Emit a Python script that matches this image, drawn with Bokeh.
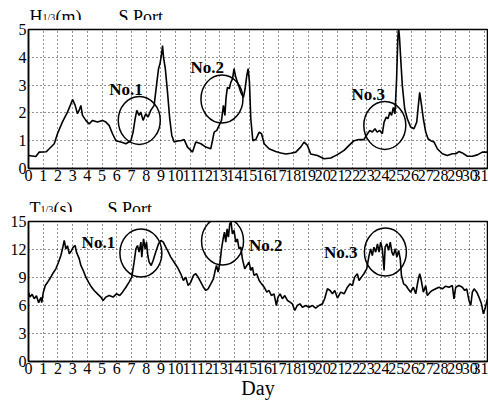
from bokeh.plotting import figure
from bokeh.layouts import column
from bokeh.models import Range1d, FixedTicker, Label
from bokeh.embed import file_html
from bokeh.resources import INLINE

# ---------------- data ----------------
days = list(range(0, 32))
h_ticks = [0, 1, 2, 3, 4, 5]
t_ticks = [0, 3, 6, 9, 12, 15]

h_day = [0.0, 0.5, 0.73, 1.2, 1.41, 1.75, 1.97, 2.3, 2.65, 2.84, 3.0, 3.17, 3.33, 3.44, 3.56, 3.67,
         3.9, 4.12, 4.35, 4.69, 5.03, 5.26, 5.48, 5.71, 5.94, 6.28, 6.62, 6.96, 7.11, 7.25, 7.36,
         7.52, 7.63, 7.79, 7.97, 8.13, 8.31, 8.54, 8.7, 8.84, 8.95, 9.06, 9.11, 9.18, 9.3, 9.45,
         9.6, 9.74, 9.9, 10.2, 10.35, 10.58, 10.81, 11.15, 11.37, 11.72, 12.05, 12.39, 12.62, 12.8,
         12.96, 13.12, 13.25, 13.35, 13.43, 13.52, 13.65, 13.75, 13.87, 13.97, 14.09, 14.25, 14.43,
         14.61, 14.72, 14.84, 14.93, 15.02, 15.11, 15.25, 15.45, 15.68, 15.84, 16.02, 16.35, 16.8,
         17.15, 17.5, 17.83, 18.17, 18.5, 18.73, 18.96, 19.18, 19.64, 20.09, 20.55, 21.0, 21.45,
         21.79, 22.13, 22.47, 22.8, 23.04, 23.2, 23.37, 23.55, 23.7, 23.88, 24.05, 24.17, 24.32,
         24.43, 24.57, 24.68, 24.8, 24.91, 25.02, 25.1, 25.15, 25.22, 25.3, 25.41, 25.57, 25.75,
         25.98, 26.2, 26.39, 26.5, 26.59, 26.7, 26.84, 27.0, 27.16, 27.34, 27.57, 27.79, 28.13,
         28.47, 28.81, 29.04, 29.26, 29.49, 29.83, 30.17, 30.51, 30.85, 31.2]
h_val = [0.47, 0.43, 0.59, 0.6, 0.71, 0.89, 1.25, 1.67, 2.03, 2.27, 2.48, 2.27, 1.97, 2.09, 2.27, 1.91,
         1.73, 1.6, 1.73, 1.67, 1.73, 1.67, 1.55, 1.25, 1.0, 0.95, 0.89, 1.0, 1.31, 1.79, 2.09,
         1.91, 2.03, 1.73, 1.97, 1.85, 2.09, 2.27, 2.99, 3.59, 3.8, 4.18, 4.42, 3.99, 3.59, 2.74,
         1.79, 1.19, 0.95, 1.0, 1.0, 1.04, 0.77, 0.59, 0.95, 0.89, 0.77, 0.71, 1.31, 1.37,
         1.55, 1.73, 2.27, 1.91, 2.56, 2.92, 2.87, 3.1, 3.22, 3.59, 3.28, 3.04, 2.74,
         2.56, 2.86, 3.35, 3.59, 3.1, 1.79, 1.0, 1.04, 1.31, 1.25, 0.89, 0.71, 0.61,
         0.56, 0.52, 0.55, 0.59, 0.77, 0.95, 0.83, 0.52, 0.47, 0.35, 0.38, 0.5, 0.65,
         0.83, 1.0, 1.04, 1.04, 1.25, 1.37, 1.31, 1.43, 1.31, 1.37, 1.25, 1.67, 1.85,
         1.79, 2.03, 1.91, 2.2, 1.97, 3.2, 4.6, 5.1, 4.7, 3.95, 2.99, 2.15, 1.79,
         1.49, 1.43, 1.67, 2.27, 2.74, 2.33, 1.79, 1.31, 1.07, 1.0, 0.95, 0.71, 0.53,
         0.47, 0.53, 0.53, 0.61, 0.56, 0.44, 0.44, 0.49, 0.59, 0.59]

t_day = [0.0, 0.1, 0.25, 0.39, 0.54, 0.69, 0.84, 0.9, 1.0, 1.14, 1.3, 1.45, 1.64, 1.86, 2.04, 2.2,
         2.31, 2.43, 2.54, 2.65, 2.77, 2.93, 3.04, 3.17, 3.26, 3.45, 3.56, 3.72, 3.9, 4.08, 4.24,
         4.46, 4.69, 4.92, 5.07, 5.26, 5.48, 5.75, 5.98, 6.2, 6.39, 6.62, 6.84, 7.02, 7.18, 7.3,
         7.41, 7.52, 7.64, 7.7, 7.82, 7.93, 8.02, 8.11, 8.2, 8.34, 8.47, 8.65, 8.84, 9.0, 9.16,
         9.33, 9.51, 9.67, 9.9, 10.12, 10.35, 10.53, 10.69, 10.85, 11.03, 11.21, 11.37, 11.53,
         11.71, 11.89, 12.05, 12.21, 12.39, 12.57, 12.69, 12.78, 12.89, 13.02, 13.12, 13.23,
         13.32, 13.41, 13.5, 13.59, 13.68, 13.77, 13.86, 13.97, 14.09, 14.2, 14.31, 14.43, 14.54,
         14.7, 14.84, 14.99, 15.11, 15.22, 15.33, 15.51, 15.68, 15.84, 16.02, 16.2, 16.35, 16.51,
         16.69, 16.85, 16.96, 17.1, 17.26, 17.42, 17.6, 17.78, 17.93, 18.1, 18.27, 18.45, 18.62,
         18.85, 19.07, 19.3, 19.52, 19.75, 19.98, 20.13, 20.32, 20.5, 20.66, 20.82, 21.0, 21.22,
         21.45, 21.68, 21.86, 22.02, 22.17, 22.35, 22.47, 22.63, 22.8, 22.99, 23.15, 23.26, 23.37,
         23.48, 23.6, 23.72, 23.83, 23.94, 24.05, 24.17, 24.24, 24.36, 24.47, 24.59, 24.7, 24.8,
         24.93, 25.04, 25.16, 25.27, 25.35, 25.5, 25.66, 25.8, 25.98, 26.16, 26.32, 26.48, 26.59,
         26.7, 26.84, 27.0, 27.11, 27.3, 27.45, 27.68, 27.9, 28.13, 28.36, 28.58, 28.81, 28.92,
         29.04, 29.26, 29.49, 29.65, 29.79, 29.94, 30.06, 30.17, 30.29, 30.47, 30.62, 30.79,
         30.92, 31.03, 31.2]
t_val = [7.43, 6.9, 7.2, 6.72, 7.04, 6.29, 6.86, 6.3, 7.36, 8.14, 8.5, 8.86, 9.4, 9.93, 10.64, 11.36,
         12.07, 12.97, 12.07, 12.4, 11.54, 11.9, 12.25, 12.43, 11.72, 11.0, 10.29, 9.75, 9.04, 8.5, 8.07,
         7.61, 7.25, 6.9, 6.54, 6.9, 7.07, 6.9, 7.25, 7.07, 7.43, 7.96, 8.5, 9.04, 10.64, 12.07,
         12.43, 11.72, 12.79, 11.18, 13.15, 12.07, 12.79, 11.36, 10.64, 10.29, 10.82, 11.72, 12.61, 12.97, 12.79,
         12.25, 11.72, 11.18, 10.64, 10.1, 9.4, 8.68, 9.04, 8.14, 8.5, 9.22, 9.4, 9.04,
         8.5, 7.96, 7.61, 7.79, 8.32, 8.86, 9.75, 10.29, 9.57, 10.64, 12.07, 13.15,
         13.86, 12.79, 14.22, 13.33, 14.75, 14.93, 13.68, 14.04, 12.79, 13.15, 12.07, 12.25, 11.0,
         9.93, 10.29, 10.64, 9.75, 10.1, 9.22, 9.4, 8.68, 8.32, 7.96, 7.43, 7.61, 7.07,
         7.25, 6.0, 6.9, 7.25, 6.72, 7.07, 6.54, 6.36, 6.18, 5.47, 6.0, 6.18, 5.82,
         6.0, 5.82, 6.0, 5.71, 6.0, 6.18, 6.72, 7.79, 7.61, 7.25, 7.61, 6.8, 7.43,
         7.25, 7.96, 8.32, 8.14, 9.04, 9.4, 8.68, 9.04, 9.4, 9.93, 11.36, 12.07, 11.36,
         12.25, 11.72, 12.61, 11.72, 12.79, 12.07, 9.75, 12.25, 12.61, 11.9, 12.79, 11.72, 11.36,
         12.07, 11.18, 11.9, 11.0, 9.22, 8.32, 8.14, 7.79, 7.43, 7.96, 7.25, 8.68, 9.4,
         8.68, 7.43, 8.14, 7.07, 7.43, 7.61, 7.79, 7.96, 7.79, 8.07, 7.96, 8.14, 6.72,
         7.96, 8.14, 7.96, 7.61, 7.79, 6.54, 6.0, 7.43, 7.79, 7.43, 6.9, 6.18,
         5.11, 5.64, 6.72]

h_circle_x = [7.53, 13.15, 24.22]
h_circle_y = [1.73, 2.5, 1.55]
h_note_x = [6.63, 12.15, 23.09]
h_note_y = [2.84, 3.63, 2.66]
t_circle_x = [7.64, 13.19, 24.26]
t_circle_y = [11.63, 12.9, 11.72]
t_note_x = [4.75, 16.13, 21.22]
t_note_y = [12.75, 12.43, 11.68]
notes = ["No.1", "No.2", "No.3"]

SERIF = "Liberation Serif"
XMAX = 31.2
TITLE_H = 20


def title_fig(sym, unit, offs):
    p = figure(width=488, height=TITLE_H, x_range=Range1d(0, XMAX), y_range=Range1d(0, TITLE_H),
               output_backend="svg", toolbar_location=None,
               min_border_left=28, min_border_right=1, min_border_top=0, min_border_bottom=0)
    p.axis.visible = False
    p.xgrid.visible = False
    p.ygrid.visible = False
    p.outline_line_color = None
    p.background_fill_color = "white"
    p.border_fill_color = "white"
    kw = dict(x=0, text_font=SERIF, text_color="black", text_baseline="alphabetic")
    p.add_layout(Label(text=sym, y=4, x_offset=offs[0], text_font_size="18px", **kw))
    p.add_layout(Label(text="1/3", y=3, x_offset=offs[1], text_font_size="10px", **kw))
    p.add_layout(Label(text=unit, y=4, x_offset=offs[2], text_font_size="18px", **kw))
    p.add_layout(Label(text="S Port", y=4, x_offset=offs[3], text_font_size="18px", **kw))
    return p


def make_fig(height, bottom, ymax, yticks):
    p = figure(width=488, height=height, x_range=Range1d(0, XMAX), y_range=Range1d(0, ymax),
               output_backend="svg", toolbar_location=None,
               min_border_left=28, min_border_right=1, min_border_top=9, min_border_bottom=bottom)
    p.background_fill_color = "white"
    p.border_fill_color = "white"
    p.outline_line_color = "black"
    p.outline_line_width = 1.5
    p.outline_line_alpha = 1
    p.xaxis.ticker = FixedTicker(ticks=days)
    p.yaxis.ticker = FixedTicker(ticks=yticks)
    for ax in (p.xaxis, p.yaxis):
        ax.axis_line_color = "black"
        ax.axis_line_width = 1.5
        ax.major_tick_line_color = None
        ax.minor_tick_line_color = None
        ax.major_tick_out = 0
        ax.major_tick_in = 0
        ax.major_label_text_font = SERIF
        ax.major_label_text_color = "black"
    p.xaxis.major_label_standoff = 1
    p.yaxis.major_label_standoff = 2
    p.xaxis.major_label_text_font_size = "16px"
    p.yaxis.major_label_text_font_size = "16px"
    for g in (p.xgrid, p.ygrid):
        g.grid_line_color = "black"
        g.grid_line_width = 1
        g.grid_line_dash = "1 3"
        g.grid_line_alpha = 0.85
    return p


def add_notes(p, cx, cy, nx, ny):
    p.ellipse(x=cx, y=cy, width=42, height=48, width_units="screen", height_units="screen",
              fill_color=None, line_color="black", line_width=1.5)
    for t, x, y in zip(notes, nx, ny):
        p.add_layout(Label(x=x, y=y, text=t, text_font=SERIF, text_font_size="17px",
                           text_font_style="bold", text_color="black", text_align="center",
                           text_baseline="alphabetic"))


t1 = title_fig("H", "(m)", [1, 14, 27, 90])
p1 = make_fig(172, 24, 5, h_ticks)
p1.line(h_day, h_val, line_color="black", line_width=1.6)
add_notes(p1, h_circle_x, h_circle_y, h_note_x, h_note_y)

t2 = title_fig("T", "(s)", [1, 12, 25, 79])
p2 = make_fig(191, 42, 15, t_ticks)
p2.line(t_day, t_val, line_color="black", line_width=1.6)
add_notes(p2, t_circle_x, t_circle_y, t_note_x, t_note_y)
p2.xaxis.axis_label = "Day"
p2.xaxis.axis_label_text_font = SERIF
p2.xaxis.axis_label_text_font_size = "20px"
p2.xaxis.axis_label_text_font_style = "normal"
p2.xaxis.axis_label_text_color = "black"
p2.xaxis.axis_label_standoff = 0

layout = column(t1, p1, t2, p2)
open("out.html", "w").write(file_html(layout, INLINE))
